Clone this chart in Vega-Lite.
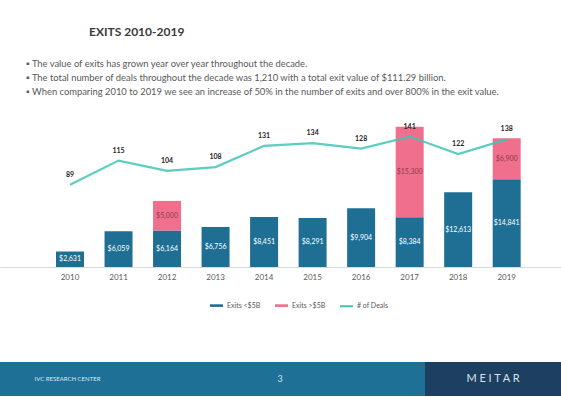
{
  "$schema": "https://vega.github.io/schema/vega-lite/v6.json",
  "padding": {"top": 25, "left": 0, "right": 0, "bottom": 0},
  "background": "#FFFFFF",
  "title": {"text": "EXITS 2010-2019", "anchor": "start", "dx": 89, "fontSize": 12, "fontWeight": "bold", "color": "#3A3A3A", "font": "Lato", "offset": 20},
  "datasets": {
    "exits": [
      {"year": 2010, "segment": "Exits <$5B", "value": 2631},
      {"year": 2011, "segment": "Exits <$5B", "value": 6059},
      {"year": 2012, "segment": "Exits <$5B", "value": 6164},
      {"year": 2012, "segment": "Exits >$5B", "value": 5000},
      {"year": 2013, "segment": "Exits <$5B", "value": 6756},
      {"year": 2014, "segment": "Exits <$5B", "value": 8451},
      {"year": 2015, "segment": "Exits <$5B", "value": 8291},
      {"year": 2016, "segment": "Exits <$5B", "value": 9904},
      {"year": 2017, "segment": "Exits <$5B", "value": 8384},
      {"year": 2017, "segment": "Exits >$5B", "value": 15300},
      {"year": 2018, "segment": "Exits <$5B", "value": 12613},
      {"year": 2019, "segment": "Exits <$5B", "value": 14841},
      {"year": 2019, "segment": "Exits >$5B", "value": 6900}
    ],
    "deals": [
      {"year": 2010, "deals": 89},
      {"year": 2011, "deals": 115},
      {"year": 2012, "deals": 104},
      {"year": 2013, "deals": 108},
      {"year": 2014, "deals": 131},
      {"year": 2015, "deals": 134},
      {"year": 2016, "deals": 128},
      {"year": 2017, "deals": 141},
      {"year": 2018, "deals": 122},
      {"year": 2019, "deals": 138}
    ],
    "footer_left": [{"brand": "IVC RESEARCH CENTER"}],
    "footer_mid": [{"page": "3"}],
    "footer_right": [{"brand": "M E I T A R"}]
  },
  "vconcat": [
    {
      "width": 561,
      "height": 148,
      "title": {
        "text": [
          "▪  The value of exits has grown year over year throughout  the decade.",
          "▪  The total number of deals throughout  the decade was 1,210 with a total exit value of $111.29 billion.",
          "▪  When comparing 2010 to 2019 we see an increase of 50% in the number of exits and over 800% in the exit value."
        ],
        "anchor": "start", "dx": 26, "fontSize": 9.4, "fontWeight": "normal", "color": "#595959", "font": "Lato", "lineHeight": 14, "offset": 22
      },
      "layer": [
        {
          "data": {"name": "exits"},
          "transform": [
            {"stack": "value", "groupby": ["year"], "sort": [{"field": "segment", "order": "ascending"}], "as": ["v0", "v1"]},
            {"calculate": "(datum.v0 + datum.v1) / 2", "as": "mid"}
          ],
          "layer": [
            {
              "mark": {"type": "bar"},
              "encoding": {
                "x": {"field": "year", "type": "ordinal",
                  "scale": {"paddingInner": 0.423, "paddingOuter": 0.9925, "align": 0.5815},
                  "axis": {"title": null, "labelAngle": 0, "ticks": false, "domainColor": "#D9D9D9", "labelColor": "#595959", "labelFontSize": 8, "labelPadding": 6, "labelFont": "Lato"}},
                "y": {"field": "v0", "type": "quantitative", "scale": {"domain": [0, 25000]}, "axis": null},
                "y2": {"field": "v1"},
                "color": {"field": "segment", "type": "nominal",
                  "scale": {"domain": ["Exits <$5B", "Exits >$5B", "# of Deals"], "range": ["#1F6F95", "#EF6F8C", "#3DC5B5"]},
                  "legend": {
                    "orient": "none", "legendX": 209, "legendY": 179, "direction": "horizontal", "title": null,
                    "symbolType": "M-1,-0.2H1V0.2H-1Z", "symbolSize": 169, "symbolStrokeWidth": 0,
                    "labelFontSize": 7, "labelColor": "#595959", "labelFont": "Lato", "labelOffset": 3, "columnPadding": 10,
                    "encoding": {
                      "symbols": {
                        "shape": {"condition": {"test": "datum.value === '# of Deals'", "value": "M-1,0H1"}, "value": "M-1,-0.2H1V0.2H-1Z"},
                        "stroke": {"condition": {"test": "datum.value === '# of Deals'", "value": "#3DC5B5"}, "value": "transparent"},
                        "strokeWidth": {"value": 2}
                      }
                    }
                  }
                }
              }
            },
            {
              "mark": {"type": "text", "fontSize": 7, "font": "Lato"},
              "encoding": {
                "x": {"field": "year", "type": "ordinal"},
                "y": {"field": "mid", "type": "quantitative", "scale": {"domain": [0, 25000]}},
                "text": {"field": "value", "format": "$,d"},
                "color": {"condition": {"test": "datum.segment === 'Exits >$5B'", "value": "#8E3B4F"}, "value": "#FFFFFF"}
              }
            }
          ]
        },
        {
          "data": {"name": "deals"},
          "layer": [
            {
              "mark": {"type": "line", "color": "#3DC5B5", "strokeWidth": 2.2, "opacity": 0.85},
              "encoding": {
                "x": {"field": "year", "type": "ordinal"},
                "y": {"field": "deals", "type": "quantitative", "scale": {"domain": [0, 160]}, "axis": null}
              }
            },
            {
              "mark": {"type": "text", "fontSize": 7, "fontWeight": "bold", "color": "#262626", "dy": -10, "font": "Lato"},
              "encoding": {
                "x": {"field": "year", "type": "ordinal"},
                "y": {"field": "deals", "type": "quantitative", "scale": {"domain": [0, 160]}},
                "text": {"field": "deals"}
              }
            }
          ]
        }
      ],
      "resolve": {"scale": {"y": "independent"}}
    },
    {
      "hconcat": [
        {
          "width": 135, "height": 34,
          "view": {"fill": "#1F7096", "stroke": null},
          "data": {"name": "footer_left"},
          "mark": {"type": "text", "fontSize": 6, "color": "#DCEAF2", "font": "Lato"},
          "encoding": {"text": {"field": "brand"}}
        },
        {
          "width": 290, "height": 34,
          "view": {"fill": "#1F7096", "stroke": null},
          "data": {"name": "footer_mid"},
          "mark": {"type": "text", "fontSize": 9, "color": "#CFE3EE", "font": "Lato"},
          "encoding": {"text": {"field": "page"}}
        },
        {
          "width": 136, "height": 34,
          "view": {"fill": "#1C3F62", "stroke": null},
          "data": {"name": "footer_right"},
          "mark": {"type": "text", "fontSize": 11, "color": "#D8E2EA", "font": "Lato"},
          "encoding": {"text": {"field": "brand"}}
        }
      ],
      "spacing": 0
    }
  ],
  "spacing": 51,
  "resolve": {"legend": {"color": "independent"}, "scale": {"color": "independent"}},
  "config": {
    "view": {"stroke": null},
    "font": "Lato",
    "axis": {"grid": false}
  }
}
